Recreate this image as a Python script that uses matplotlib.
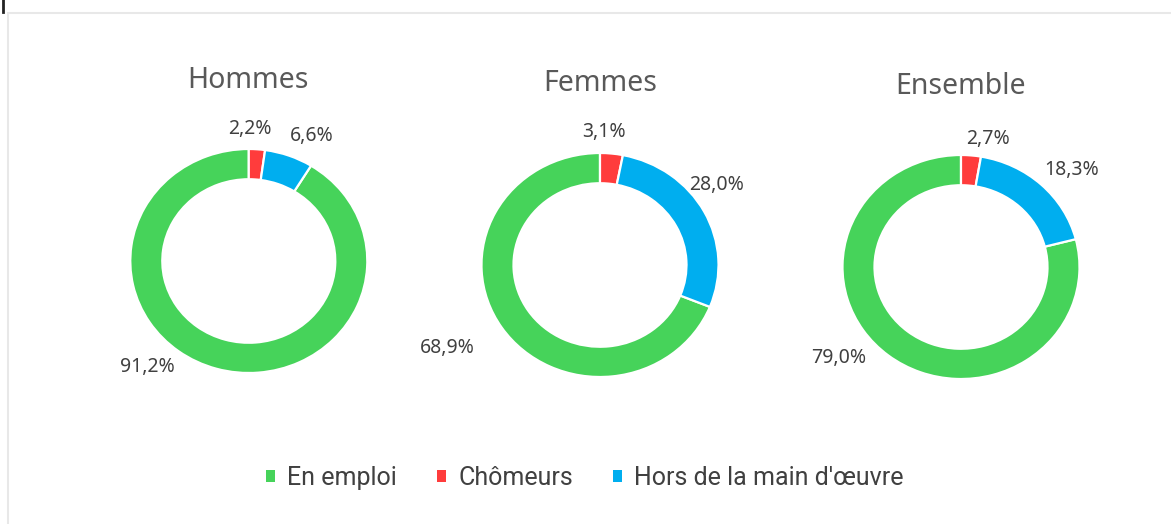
import matplotlib
matplotlib.use("Agg")
import matplotlib.pyplot as plt
from matplotlib.patches import Rectangle
from matplotlib.lines import Line2D

# ---- data ----
categories = ["En emploi", "Chômeurs", "Hors de la main d'œuvre"]
groups = ["Hommes", "Femmes", "Ensemble"]
en_emploi = [91.2, 68.9, 79.0]
chomeurs = [2.2, 3.1, 2.7]
hors_mo = [6.6, 28.0, 18.3]

colors = ["#46D35A", "#FF3C3C", "#00AEEF"]

# ---- layout (pixels) ----
W, H = 1171, 524
centers = [(248.8, 261), (600, 265), (961, 267)]
rx, ry = 118.5, 112
title_pos = [(248, 80), (600, 84), (961, 86)]
# label offsets in unit-radius coordinates, order: emploi, chomeurs, hors
label_off = [
    [(-0.86, -0.95), (0.01, 1.18), (0.53, 1.12)],
    [(-1.29, -0.74), (0.03, 1.19), (0.98, 0.71)],
    [(-1.03, -0.81), (0.23, 1.14), (0.93, 0.87)],
]

plt.rcParams['font.family'] = ['Noto Sans', 'DejaVu Sans']
fig = plt.figure(figsize=(W / 100, H / 100), dpi=100)

# frame (only top and left edges visible)
fig.patches.append(Rectangle((8 / W, -0.2), 1.2, 1.2 - 13 / H, transform=fig.transFigure,
                             fill=False, edgecolor="#E8E8E8", linewidth=1.5))
fig.add_artist(Line2D([2.5 / W, 2.5 / W], [1, 1 - 12 / H], transform=fig.transFigure,
                      color="#222222", linewidth=2))

K = 1.6
for i, g in enumerate(groups):
    cx, cy = centers[i]
    w = 2 * rx * K
    h = 2 * ry * K
    ax = fig.add_axes([(cx - w / 2) / W, (H - cy - h / 2) / H, w / W, h / H])
    vals = [en_emploi[i], chomeurs[i], hors_mo[i]]
    total = sum(vals)
    start = 90 + 360 * vals[0] / total
    ax.pie(vals, colors=colors, startangle=start, counterclock=False,
           radius=1, wedgeprops=dict(width=0.27, edgecolor="white", linewidth=1.6))
    ax.set_aspect("auto")
    ax.set_xlim(-K, K)
    ax.set_ylim(-K, K)
    ax.axis("off")
    for j, v in enumerate(vals):
        ox, oy = label_off[i][j]
        ax.text(ox, oy, f"{v:.1f}".replace(".", ",") + "%", ha="center", va="center",
                fontsize=14, color="#404040")
    tx, ty = title_pos[i]
    fig.text(tx / W, 1 - ty / H, g, ha="center", va="center", fontsize=20.5, color="#595959")

handles = [Rectangle((0, 0), 1, 1, facecolor=c, edgecolor="none") for c in colors]
fig.legend(handles, categories, loc="center", bbox_to_anchor=(585 / W, 1 - 478 / H),
           ncol=3, frameon=False, handlelength=0.35, handleheight=0.35, handletextpad=0.5,
           columnspacing=1.6, prop=dict(family=['Roboto', 'DejaVu Sans'], size=18),
           labelcolor="#404040")

fig.savefig("out.png", dpi=100, facecolor="white")
